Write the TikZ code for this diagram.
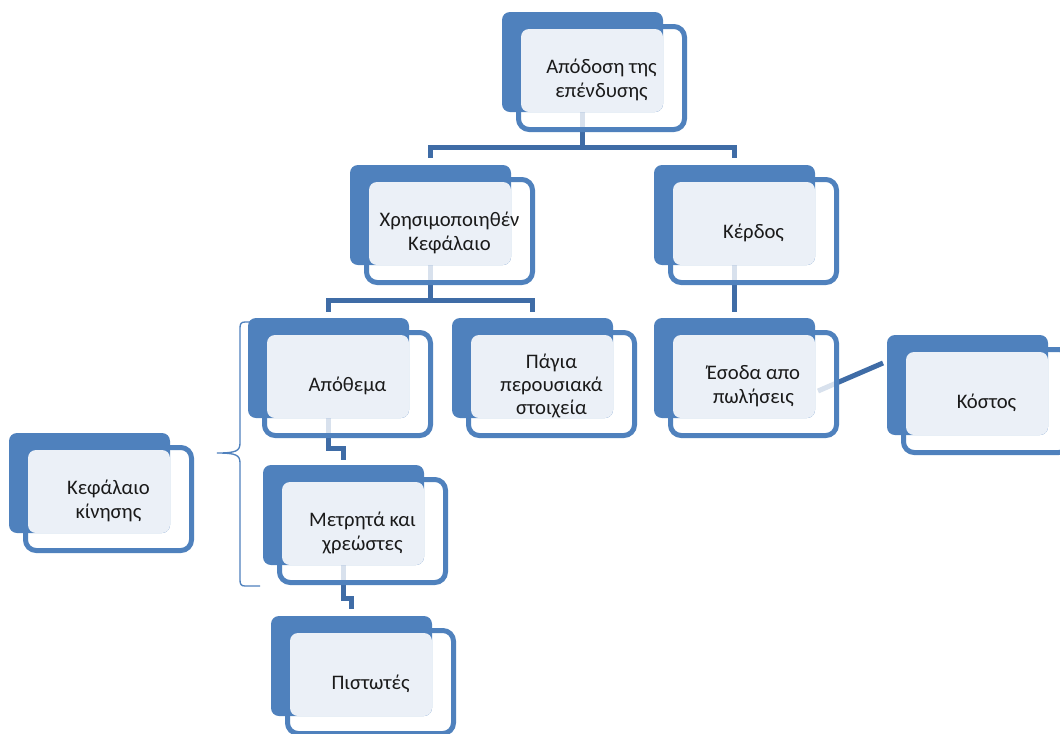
\documentclass[tikz,border=0pt]{standalone}
\usepackage{fontspec}
\setmainfont{Carlito}
\usetikzlibrary{calc}

\definecolor{panelblue}{HTML}{4F81BD}
\definecolor{panellight}{HTML}{EBF0F7}
\definecolor{linkblue}{HTML}{3F6CA6}
\definecolor{inktext}{HTML}{1A1A1A}

% drawing order: paper, connectors, outlined front cards, solid back cards, tints, text
\pgfdeclarelayer{paper}
\pgfdeclarelayer{links}
\pgfdeclarelayer{fronts}
\pgfdeclarelayer{backs}
\pgfdeclarelayer{tints}
\pgfsetlayers{paper,links,fronts,backs,tints,main}

\tikzset{
  backpanel/.style={rectangle, fill=panelblue, rounded corners=6pt,
    minimum width=120.75pt, minimum height=75pt, inner sep=0pt, outer sep=0pt},
  frontpanel/.style={rectangle, draw=panelblue, line width=3.75pt,
    fill=white, fill opacity=0.8, rounded corners=8pt,
    minimum width=124.5pt, minimum height=77.25pt, inner sep=0pt, outer sep=0pt},
  caption/.style={text=inktext, align=center, inner sep=0pt,
    font=\fontsize{15.5pt}{17.5pt}\selectfont},
  link/.style={draw=linkblue, line width=3.75pt},
  bracket/.style={draw=panelblue, line width=1pt},
}

% one card: name, centre of the solid back panel, caption
\newcommand\panelunit[4]{%
  \begin{pgfonlayer}{backs}
    \node[backpanel] (#1) at (#2,#3) {};
  \end{pgfonlayer}
  \begin{pgfonlayer}{fronts}
    \node[frontpanel] (#1-f) at ($(#1)+(19,16)$) {};
  \end{pgfonlayer}
  \begin{pgfonlayer}{tints}
    \fill[panellight, rounded corners=6pt]
      ($(#1-f.north west)+(2.5,2.5)$) rectangle (#1.south east);
  \end{pgfonlayer}
  \node[caption] (#1-t) at ($(#1-f)+(0,2)$) {#4};
}

\begin{document}
\begin{tikzpicture}[x=0.75pt, y=-0.75pt]
  \begin{pgfonlayer}{paper}
    \fill[white] (0,0) rectangle (1060,733);
  \end{pgfonlayer}
  \useasboundingbox (0,0) rectangle (1060,733);

  \panelunit{A}{582.5}{62}{Απόδοση της\\επένδυσης}
  \panelunit{B}{430.5}{215}{Χρησιμοποιηθέν\\Κεφάλαιο}
  \panelunit{C}{734.5}{215}{Κέρδος}
  \panelunit{D}{328.5}{368}{Απόθεμα}
  \panelunit{E}{532.5}{368}{Πάγια\\περουσιακά\\στοιχεία}
  \panelunit{F}{734.5}{368}{Έσοδα απο\\πωλήσεις}
  \panelunit{G}{967.5}{385}{Κόστος}
  \panelunit{H}{89.5}{483}{Κεφάλαιο\\κίνησης}
  \panelunit{I}{343.5}{515}{Μετρητά και\\χρεώστες}
  \panelunit{J}{351.5}{666}{Πιστωτές}

  \begin{pgfonlayer}{links}
    % tree connectors
    \draw[link] (A.south) -- ++(0,35) -| ($(B.north)+(0,-7)$);
    \draw[link] (A.south) -- ++(0,35) -| ($(C.north)+(0,-7)$);
    \draw[link] (B.south) -- ++(0,35) -| ($(D.north)+(0,-6)$);
    \draw[link] (B.south) -- ++(0,35) -| ($(E.north)+(0,-6)$);
    \draw[link] (C.south) -- ($(F.north)+(0,-6)$);
    \draw[link] (D.south) -- ++(0,30) -| ($(I.north)+(0,-5)$);
    \draw[link] (I.south) -- ++(0,33) -| ($(J.north)+(0,-7)$);
    % side link from sales to cost
    \coordinate (fg-a) at ($(F.east)+(3,23)$);
    \coordinate (fg-b) at ($(G.west)+(-4,-22)$);
    \draw[link] (fg-a) -- (fg-b);
    % brace grouping the working-capital items
    \draw[bracket] (263,322) -- (245,322)
      .. controls (241,322) and (240,324) .. (240,328)
      -- (240,443)
      .. controls (240,451) and (236,453) .. (217,453)
      .. controls (236,453) and (240,455) .. (240,463)
      -- (240,580)
      .. controls (240,584) and (241,586) .. (245,586)
      -- (260,586);
  \end{pgfonlayer}
\end{tikzpicture}
\end{document}
